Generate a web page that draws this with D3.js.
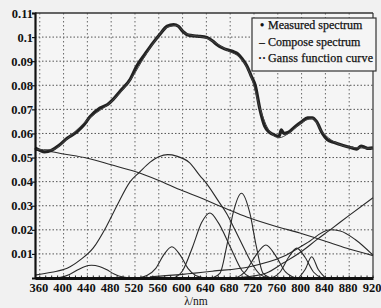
<!DOCTYPE html>
<html>
<head>
<meta charset="utf-8">
<script src="https://cdn.jsdelivr.net/npm/d3@7/dist/d3.min.js"></script>
<style>
  body { margin: 0; background: #f1f1f1; }
  text { font-family: "Liberation Serif", "Times New Roman", serif; fill: #111; }
</style>
</head>
<body>
<div id="chart-area"></div>
<script>
// ---- data: [wavelength nm, intensity] ----
var xTicks = [360, 400, 440, 480, 520, 560, 600, 640, 680, 720, 760, 800, 840, 880, 920];
var yTicks = [0.01, 0.02, 0.03, 0.04, 0.05, 0.06, 0.07, 0.08, 0.09, 0.1, 0.11];

var measured = [[352,0.0540],[360,0.0530],[368,0.0523],[380,0.0530],[392,0.0550],[406,0.0580],
  [423,0.0608],[434,0.0635],[444,0.0668],[461,0.0705],[474,0.0720],[483,0.0740],[495,0.0775],
  [512,0.0825],[523,0.0880],[537,0.0930],[550,0.0975],[563,0.1015],[574,0.1045],[585,0.1052],
  [593,0.1045],[601,0.1022],[610,0.1008],[625,0.1004],[641,0.0998],[650,0.0985],[658,0.0968],
  [667,0.0955],[675,0.0947],[685,0.0940],[693,0.0930],[700,0.0910],[708,0.0880],[716,0.0835],
  [722,0.0800],[730,0.0700],[738,0.0630],[746,0.0605],[755,0.0593],[762,0.0588],[766,0.0615],
  [770,0.0600],[778,0.0605],[790,0.0630],[800,0.0648],[810,0.0665],[818,0.0665],[825,0.0650],
  [835,0.0600],[843,0.0575],[855,0.0562],[870,0.0550],[885,0.0540],[893,0.0535],[900,0.0548],
  [906,0.0543],[912,0.0538],[920,0.0540]];

var compose = [[352,0.0535],[380,0.0532],[406,0.0578],[444,0.0665],[483,0.0738],[512,0.0822],
  [550,0.0972],[575,0.1042],[590,0.1048],[605,0.1015],[641,0.0995],[675,0.0945],[700,0.0905],
  [716,0.0830],[730,0.0705],[746,0.0610],[762,0.0582],[778,0.0600],[800,0.0645],[818,0.0662],
  [835,0.0605],[855,0.0565],[885,0.0542],[920,0.0538]];

// gauss function curves
var gLeft = [[352,0.0530],[380,0.0524],[400,0.0515],[440,0.0497],[480,0.0470],[520,0.0442],
  [557,0.0408],[600,0.0362],[629,0.0334],[657,0.0304],[685,0.0276],[713,0.0249],[760,0.0212],
  [797,0.0187],[848,0.0146],[880,0.0120],[920,0.0093]];
var g440 = [[380,0],[395,0.0003],[410,0.0015],[425,0.0035],[435,0.0047],[447,0.0053],[460,0.0048],
  [472,0.0035],[485,0.0017],[500,0.0004],[515,0]];
var g575 = [[352,0.0012],[380,0.0024],[406,0.0040],[428,0.0075],[450,0.0125],[472,0.0214],
  [489,0.0297],[512,0.0400],[528,0.0440],[545,0.0480],[560,0.0503],[575,0.0512],[590,0.0506],
  [612,0.0478],[629,0.0425],[641,0.0390],[660,0.0320],[674,0.0268],[688,0.0200],[702,0.0130],
  [716,0.0062],[730,0.0015],[745,0]];
var g582 = [[525,0],[540,0.0010],[555,0.0040],[568,0.0095],[582,0.0130],[596,0.0095],[609,0.0040],
  [622,0.0010],[637,0]];
var g646 = [[585,0],[600,0.0030],[617,0.0130],[632,0.0230],[646,0.0270],[660,0.0230],[680,0.0130],
  [700,0.0030],[715,0]];
var g699 = [[650,0],[663,0.0020],[674,0.0130],[685,0.0270],[699,0.0352],[713,0.0270],[724,0.0130],
  [735,0.0020],[748,0]];
var g740 = [[690,0],[705,0.0025],[722,0.0090],[740,0.0137],[757,0.0090],[773,0.0025],[790,0]];
var g792 = [[750,0],[764,0.0025],[778,0.0085],[792,0.0124],[806,0.0085],[820,0.0025],[834,0]];
var g817 = [[795,0],[806,0.0035],[817,0.0088],[828,0.0035],[840,0]];
var g850 = [[545,0.0005],[600,0.0015],[650,0.0028],[713,0.0047],[769,0.0089],[808,0.0144],
  [848,0.0200],[865,0.0195],[890,0.0160],[920,0.0095]];
var gRight = [[700,0.0003],[740,0.0020],[769,0.0062],[800,0.0110],[825,0.0158],[848,0.0200],
  [880,0.0260],[920,0.0333]];

var gauss = [gLeft, g440, g575, g582, g646, g699, g740, g792, g817, g850, gRight];

var legendItems = [
  { mark: "\u2022", label: "Measured spectrum" },
  { mark: "\u2013", label: "Compose spectrum" },
  { mark: "\u00b7\u00b7", label: "Ganss function curve" }
];

var W = 381, H = 308;
var plot = { left: 35, right: 373, top: 13, bottom: 278 };

var svg = d3.select("#chart-area").append("svg")
  .attr("width", W).attr("height", H);

svg.append("rect").attr("width", W).attr("height", H).attr("fill", "#f1f1f1");
svg.append("rect")
  .attr("x", plot.left).attr("y", plot.top)
  .attr("width", plot.right - plot.left).attr("height", plot.bottom - plot.top)
  .attr("fill", "#f5f5f5");

var x = d3.scaleLinear().domain([352, 920]).range([plot.left, plot.right]);
var y = d3.scaleLinear().domain([0, 0.11]).range([plot.bottom, plot.top]);

// grid
svg.append("g").selectAll("line")
  .data(yTicks.filter(function(d){ return d < 0.11; }))
  .enter().append("line")
    .attr("x1", plot.left).attr("x2", plot.right)
    .attr("y1", function(d){ return y(d); })
    .attr("y2", function(d){ return y(d); })
    .attr("stroke", "#555").attr("stroke-width", 1)
    .attr("stroke-dasharray", "1.5,2");

svg.append("g").selectAll("line")
  .data(xTicks.filter(function(d){ return d < 920; }))
  .enter().append("line")
    .attr("x1", function(d){ return x(d); })
    .attr("x2", function(d){ return x(d); })
    .attr("y1", plot.top).attr("y2", plot.bottom)
    .attr("stroke", "#666").attr("stroke-width", 1)
    .attr("stroke-dasharray", "1.5,2.5");

var line = d3.line()
  .x(function(d){ return x(d[0]); })
  .y(function(d){ return y(d[1]); })
  .curve(d3.curveMonotoneX);

// gauss curves
svg.append("g").selectAll("path")
  .data(gauss)
  .enter().append("path")
    .attr("d", line)
    .attr("fill", "none")
    .attr("stroke", "#2a2a2a")
    .attr("stroke-width", 1.1);

// measured + compose
svg.append("path").datum(measured)
  .attr("d", line)
  .attr("fill", "none").attr("stroke", "#222")
  .attr("stroke-width", 3.2).attr("stroke-linejoin", "round");

svg.append("path").datum(compose)
  .attr("d", line)
  .attr("fill", "none").attr("stroke", "#444")
  .attr("stroke-width", 1);

// frame
svg.append("line").attr("x1", plot.left).attr("x2", plot.right)
  .attr("y1", plot.top).attr("y2", plot.top)
  .attr("stroke", "#333").attr("stroke-width", 1.5);
svg.append("line").attr("x1", plot.right).attr("x2", plot.right)
  .attr("y1", plot.top).attr("y2", plot.bottom)
  .attr("stroke", "#333").attr("stroke-width", 1.2);

// axes
var yAxisCall = d3.axisLeft(y)
  .tickValues(yTicks)
  .tickSize(3)
  .tickFormat(function(d){ return d3.format("~g")(d); });
var yAxis = svg.append("g")
  .attr("transform", "translate(" + plot.left + ",0)")
  .call(yAxisCall);
yAxis.select(".domain").attr("stroke", "#111").attr("stroke-width", 2.2);
yAxis.selectAll(".tick line").attr("stroke", "#111").attr("stroke-width", 1.2);
yAxis.selectAll("text")
  .attr("font-family", "Liberation Serif, serif")
  .attr("font-size", "12.5px")
  .attr("font-weight", "bold")
  .attr("fill", "#1a1a1a")
  .attr("x", -2);

var xMinor = d3.range(360, 921, 10);
svg.append("g").selectAll("line")
  .data(xMinor)
  .enter().append("line")
    .attr("x1", function(d){ return x(d); })
    .attr("x2", function(d){ return x(d); })
    .attr("y1", plot.bottom).attr("y2", plot.bottom - 2.5)
    .attr("stroke", "#222").attr("stroke-width", 1);

var xAxisCall = d3.axisBottom(x)
  .tickValues(xTicks)
  .tickSize(0)
  .tickPadding(5);
var xAxis = svg.append("g")
  .attr("transform", "translate(0," + plot.bottom + ")")
  .call(xAxisCall);
xAxis.select(".domain").attr("stroke", "#111").attr("stroke-width", 2.8);
xAxis.selectAll("text")
  .attr("font-family", "Liberation Serif, serif")
  .attr("font-size", "12.5px")
  .attr("font-weight", "bold")
  .attr("fill", "#1a1a1a")
  .attr("dx", "-1.5");

// x axis label
svg.append("text")
  .attr("x", 196).attr("y", 304.5)
  .attr("text-anchor", "middle")
  .attr("font-size", "11.5px")
  .text("\u03bb/nm");

// legend
var lg = svg.append("g").attr("transform", "translate(252,18)");
lg.append("rect")
  .attr("width", 124).attr("height", 53)
  .attr("fill", "#f5f5f5")
  .attr("stroke", "#333").attr("stroke-width", 1.2);
lg.selectAll("text.mk")
  .data(legendItems)
  .enter().append("text")
    .attr("class", "mk")
    .attr("x", 10).attr("y", function(d, i){ return 11 + i * 16.5; })
    .attr("text-anchor", "middle")
    .attr("font-size", "12px")
    .attr("font-weight", "bold")
    .text(function(d){ return d.mark; });
lg.selectAll("text.lb")
  .data(legendItems)
  .enter().append("text")
    .attr("class", "lb")
    .attr("x", 16).attr("y", function(d, i){ return 11 + i * 16.5; })
    .attr("font-size", "12px")
    .attr("stroke", "#111").attr("stroke-width", 0.25)
    .attr("textLength", function(d, i){ return i === 2 ? 105 : null; })
    .text(function(d){ return d.label; });
</script>
</body>
</html>
